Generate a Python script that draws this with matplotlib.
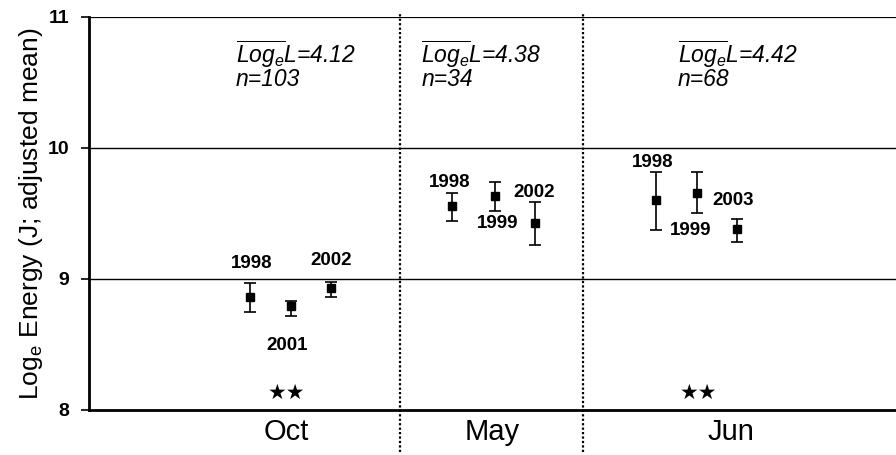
import matplotlib
matplotlib.use("Agg")
import matplotlib.pyplot as plt

plt.rcParams['font.family'] = ['Liberation Sans', 'DejaVu Sans']
plt.rcParams['mathtext.fontset'] = 'custom'
plt.rcParams['mathtext.rm'] = 'Liberation Sans'
plt.rcParams['mathtext.it'] = 'Liberation Sans:italic'

# --- data ---
months = ["Oct", "May", "Jun"]
month_pos = [2.45, 5.0, 7.95]
dividers = [3.85, 6.12]

years = ["1998", "2001", "2002", "1998", "1999", "2002", "1998", "2003", "1999"]
xpos = [2.0, 2.5, 3.0, 4.5, 5.03, 5.53, 7.03, 7.54, 8.03]
means = [8.86, 8.79, 8.93, 9.56, 9.63, 9.43, 9.60, 9.66, 9.38]
upper = [8.97, 8.835, 8.98, 9.66, 9.74, 9.59, 9.82, 9.82, 9.46]
lower = [8.75, 8.72, 8.86, 9.44, 9.52, 9.26, 9.37, 9.50, 9.28]

# year label positions (x, y)
label_x = [2.02, 2.46, 3.0, 4.47, 5.06, 5.52, 6.98, 7.98, 7.45]
label_y = [9.12, 8.49, 9.14, 9.74, 9.42, 9.66, 9.89, 9.60, 9.37]

mean_logL = ["4.12", "4.38", "4.42"]
n_obs = ["103", "34", "68"]
annot_x = [1.82, 4.12, 7.3]
stars_x = [2.45, 7.55]

fig = plt.figure(figsize=(8.96, 4.55), dpi=100)
ax = fig.add_axes([0.0993, 0.099, 0.9007, 0.8637])

ax.set_xlim(0, 10)
ax.set_ylim(8, 11)

for y, lw in [(9, 1.0), (10, 1.0), (11, 1.6)]:
    ax.axhline(y, color='black', lw=lw, zorder=1)

ax.vlines(dividers, 7.68, 11.03, colors='black', linestyles=(0, (1, 1)),
          lw=1.6, clip_on=False, zorder=1)

yerr = [[m - lo for m, lo in zip(means, lower)],
        [up - m for m, up in zip(means, upper)]]
ax.errorbar(xpos, means, yerr=yerr, fmt='s', color='black', ms=5.5,
            capsize=4.3, elinewidth=1.2, capthick=1.2, zorder=3)

for yr, lx, ly in zip(years, label_x, label_y):
    ax.text(lx, ly, yr, ha='center', va='center', fontsize=13.5,
            fontweight='bold')

for lx, mv, n in zip(annot_x, mean_logL, n_obs):
    ax.text(lx, 10.65, r'$\overline{Log_e}L$=' + mv, fontsize=16.5,
            fontstyle='italic', ha='left', va='baseline')
    ax.text(lx, 10.475, 'n=' + n, fontsize=16.5, fontstyle='italic',
            ha='left', va='baseline')

for sx in stars_x:
    ax.text(sx, 8.13, '\u2605\u2605', ha='center', va='center', fontsize=15,
            family='DejaVu Sans')

ax.set_xticks(month_pos)
ax.set_xticklabels(months, fontsize=21)
ax.tick_params(axis='x', length=0, pad=6)

ax.set_yticks([8, 9, 10, 11])
ax.set_yticklabels(['8', '9', '10', '11'], fontsize=14, fontweight='bold')
ax.tick_params(axis='y', direction='out', length=6, width=1.2, pad=8)

ax.set_ylabel(r'Log$_\mathregular{e}$ Energy (J; adjusted mean)', fontsize=19,
              labelpad=2)

for s in ['top', 'right']:
    ax.spines[s].set_visible(False)
ax.spines['left'].set_linewidth(2.0)
ax.spines['bottom'].set_linewidth(2.0)

fig.savefig("out.png", dpi=100)
